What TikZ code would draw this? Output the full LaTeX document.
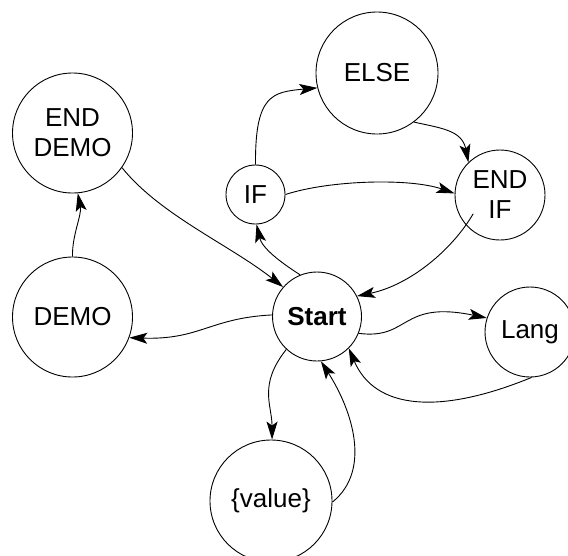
\documentclass[tikz,border=0pt]{standalone}
\usepackage{fontspec}
\setmainfont{Liberation Sans}
\usetikzlibrary{arrows.meta,calc}
\begin{document}
\begin{tikzpicture}[x=1pt,y=-1pt,
  st/.style={draw,circle,inner sep=0pt,line width=0.9pt,align=center,font=\fontsize{26}{30}\selectfont},
  conn/.style={line width=0.9pt,-{Stealth[length=18pt,width=11pt,inset=4pt]}}]
\useasboundingbox (0,0) rectangle (568,555);
\node[st,minimum size=120pt] (enddemo) at (72.5,133) {END\\DEMO};
\node[st,minimum size=122pt] (else) at (377,73) {ELSE};
\node[st,minimum size=59pt] (if) at (255.5,194.5) {IF};
\node[st,minimum size=90pt] (endif) at (500,195) {END\\IF};
\node[st,minimum size=120pt] (demo) at (72.5,317) {DEMO};
\node[st,minimum size=89pt,font=\fontsize{26}{30}\selectfont\bfseries] (start) at (317,316.5) {Start};
\node[st,minimum size=90pt] (lang) at (530,332) {Lang};
\node[st,minimum size=122pt] (value) at (271,501) {\{value\}};
\coordinate (endifin) at ($(endif.center)!0.72!(endif.215)$);
% connectors
\draw[conn] (demo.90) .. controls (72,235) and (82,215) .. (enddemo.-85);
\draw[conn] (enddemo.-35) .. controls (160,215) and (230,245) .. (start.139);
\draw[conn] (start.112) .. controls (280,262) and (262,248) .. (if.-88);
\draw[conn] (if.90) .. controls (255,95) and (272,92) .. (else.194);
\draw[conn] (else.-53) .. controls (440,128) and (462,130) .. (endif.134);
\draw[conn] (if.0) .. controls (330,180) and (410,178) .. (endif.178);
\draw[conn] (endifin) .. controls (452,250) and (410,285) .. (start.27);
\draw[conn] (start.-22) .. controls (410,340) and (400,300) .. (lang.162);
\draw[conn] (lang.-88) .. controls (440,415) and (375,410) .. (start.-45);
\draw[conn] (start.178) .. controls (210,318) and (200,340) .. (demo.-20);
\draw[conn] (start.227) .. controls (258,385) and (272,405) .. (value.89);
\draw[conn] (value.-1) .. controls (372,470) and (352,410) .. (start.-85);
\end{tikzpicture}
\end{document}
